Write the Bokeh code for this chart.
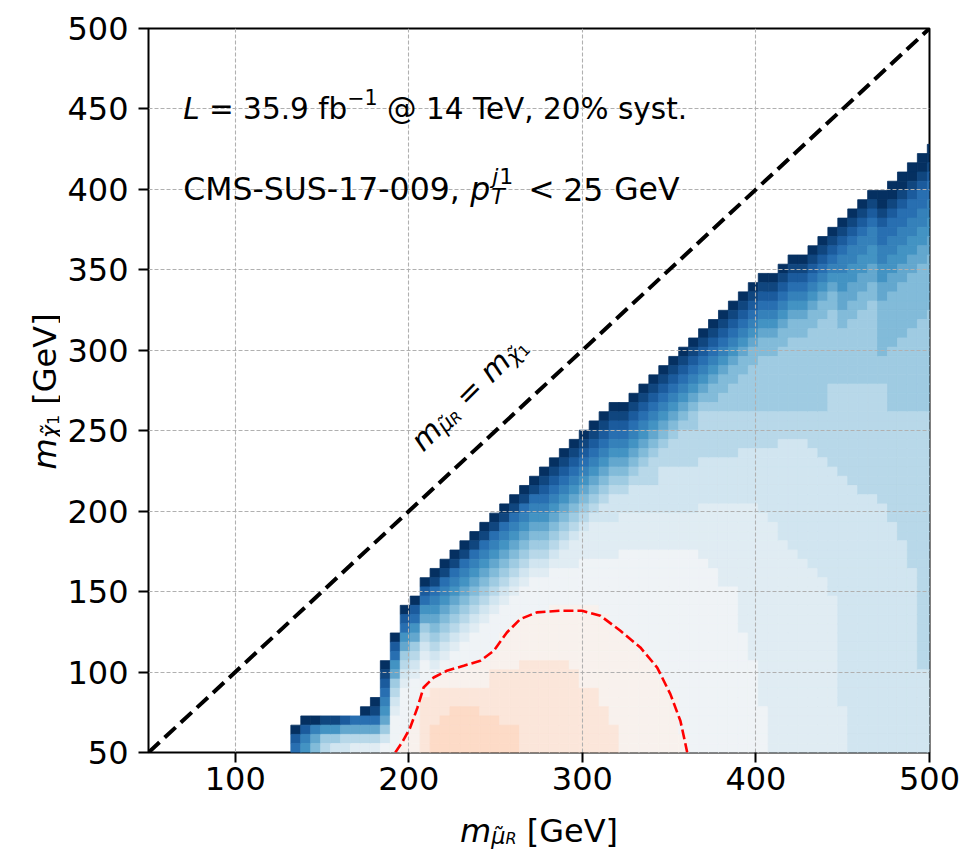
import math
from bokeh.plotting import figure
from bokeh.layouts import row, column
from bokeh.models import ColumnDataSource, LinearColorMapper, Label, Range1d, FixedTicker
from bokeh.transform import transform
from bokeh.embed import file_html
from bokeh.resources import INLINE

FONT = "DejaVu Sans"

# ------------------------------------------------------------------ data
# scan grid (lower edge of first column / row and step), GeV
mu_grid_start = 51.8
chi_grid_start = 49.8
grid_step = 5.73

# m_mu column index of the scan and, per column, the colour level of every
# cell from the top cell (closest to the diagonal) down to the lowest m_chi row.
# token "LxN" = level L (hex) repeated N times
col_index = list(range(14, 79))
col_levels = [
    "0 2 3",
    "0 2 4 5",
    "0 4 6 7",
    "1 5 8 9",
    "1 5 8 a",
    "2 6 9 a",
    "3 6 9 b",
    "0 3 6 9 b",
    "0 1 3 6 9 b",
    "0 1 2 3 4 5 6 8 a c",
    "0 2 3 5 6 8 9 a b cx4",
    "0 2 3 5 6 8 9 a b cx5 dx2",
    "0 2 3 5 6 8 9 a b cx4 dx4",
    "0 2 3 5 6 8 9 a b cx3 d ex6",
    "0 1 3 4 5 6 7 8 9 a b c d ex4 fx3",
    "0 1 3 4 5 6 7 8 9 a b c dx2 ex3 fx4",
    "0 1 3 4 5 6 7 8 9 a b cx2 dx2 ex2 fx5",
    "0 1 3 4 5 6 7 8 9 a b cx3 dx2 ex2 fx5",
    "0 1 3 4 5 6 7 8 9 a b cx3 dx3 ex2 fx5",
    "0 1 3 4 5 6 7 8 9 a b cx4 dx3 ex3 fx4",
    "0 1 3 4 5 6 7 8 9 a b cx4 dx2 ex5 fx4",
    "0 1 3 4 5 6 7 8 9 a b cx3 dx4 ex6 fx3",
    "0 1 3 4 5 6 7 8 9 a b cx3 dx5 ex6 fx3",
    "0 1 3 4 5 6 7 8 9 a b cx3 dx5 ex10",
    "0 1 3 4 5 6 7 8 9 a b cx4 dx5 ex10",
    "0 1 2 3 4 5 6 7 8 9 a b cx4 dx5 ex10",
    "0 1 2 3 4 5 6 7 8 9 a b cx4 dx6 ex10",
    "0 1 2 3 4 5 6 7 8 9 a bx2 cx4 dx6 ex10",
    "0 1 2 3 4 5 6 7 8 9 a bx3 cx4 dx7 ex9",
    "0 1 2 3 4 5 6 7 8 9 a bx3 cx5 dx9 ex7",
    "0 1 2 3 4 5 6 7 8 9 a bx4 cx5 dx9 ex7",
    "0 1 2 3 4 5 6 7 8 9 ax2 bx4 cx6 dx10 ex5",
    "0 1 2 3 4 5 6 7 8 9 ax3 bx4 cx7 dx11 ex3",
    "0 1 2 3 4 5 6 7 8 9 ax2 bx4 cx9 dx13",
    "0 1 2 3 4 5 6 7 8 9 ax3 bx4 cx10 dx12",
    "0 1 2 3 4 5 6 7 8 9x2 ax3 bx4 cx11 dx11",
    "0 1 2 3 4 5 6 7 8 9x3 ax3 bx4 cx12 dx10",
    "0 1 2 3 4 5 6 7 8 9x2 ax5 bx4 cx14 dx8",
    "0 1 2 3 4 5 6 7 8 9x3 ax5 bx4 cx16 dx6",
    "0 1 2 3 4 5 6 7 8 9x4 ax5 bx4 cx20 dx2",
    "0 1 2 3 4 5 6 7 8x2 9x4 ax5 bx4 cx22",
    "0 1 2 3 4 5 6 7 8 9x5 ax5 bx6 cx21",
    "0 1 2 3 4 5 6 7x2 8 9x5 ax5 bx7 cx20",
    "0 1 2 3 4 5 6 7x2 8x2 9x5 ax5 bx9 cx18",
    "0 1 2 3 4 5 6 7x2 8x3 9x5 ax5 bx9 cx18",
    "0 1 2 3 4 5 6 7x2 8x4 9x4 ax6 bx14 cx13",
    "0 1 2 3 4 5 6 7x2 8x5 9x4 ax6 bx17 cx10",
    "0 1 2 3 4 5 6 7x2 8x6 9x4 ax7 bx21 cx5",
    "0 1 2 3 4 5 6 7x2 8x6 9x4 ax8 bx25",
    "0 1 2 3 4 5 6 7x2 8x7 9x3 ax11 bx23",
    "0 1 2 3 4 5 6 7x2 8x8 9x3 ax12 bx22",
    "0 1 2 3 4 5 6 7x2 8x8 9x3 ax13 bx21",
    "0 1 2 3 4 5 6 7x2 8x9 9x4 ax13 bx20",
    "0 1 2 3 4 5 6 7x2 8x10 9x5 ax13 bx19",
    "0 1 2 3 4 5 6 7x2 8x8 9x9 ax14 bx17",
    "0 1 2 3 4x2 5x2 6x2 7x2 8x6 9x10 ax25 bx5",
    "0 1 2 3 4x2 5x2 6x2 7x2 8x7 9x11 ax29",
    "0 1 2 3 4x2 5x2 6x2 7x2 8x8 9x12 ax28",
    "0 1 2 3 4x2 5x2 6x2 7x2 8x9 9x12 ax28",
    "0x2 1 2 3x2 4x2 5x2 6x2 7x6 8x3 9x13 ax27",
    "0x2 1 2 3x2 4x2 5x2 6x2 7x6 8x7 9x12 ax25",
    "0x2 1 2 3x2 4x2 5x2 6x2 7x6 8x8 9x14 ax23",
    "0x2 1 2 3x2 4x2 5x2 6x2 7x6 8x9 9x17 ax20",
    "0x2 1 2 3x2 4x2 5x2 6x2 7x6 8x10 9x28 ax9",
    "0x2 1 2 3x2 4x2 5x2 6x2 7x6 8x11 9x28 ax9",
]

# red dashed contour (GeV)
contour_x = [192.2, 196.5, 200.8, 205.0, 208.5, 214.3, 221.9, 231.6, 241.2, 248.9,
             256.5, 264.2, 273.8, 287.3, 299.8, 310.4, 321.9, 333.4, 343.1, 350.7,
             356.5, 359.4, 360.4]
contour_y = [50.0, 57.0, 65.5, 78.0, 90.4, 96.6, 100.8, 103.9, 107.0, 113.2,
             124.6, 132.9, 137.1, 138.1, 138.1, 135.0, 125.7, 115.3, 102.8, 86.3,
             69.6, 55.1, 50.0]

diag_x = [50, 500]
diag_y = [50, 500]

x_ticks = [100, 200, 300, 400, 500]
y_ticks = [50, 100, 150, 200, 250, 300, 350, 400, 450, 500]

# diverging colour map (RdBu reversed) and number of level steps over its span
cmap_anchors = ["#053061", "#2166ac", "#4393c3", "#92c5de", "#d1e5f0", "#f7f7f7",
                "#fddbc7", "#f4a582", "#d6604d", "#b2182b", "#67001f"]
n_steps = 25

# ------------------------------------------------------------------ cells
def expand(s):
    out = []
    for tok in s.split():
        if "x" in tok:
            lv, n = tok.split("x")
            out += [int(lv, 16)] * int(n)
        else:
            out.append(int(tok, 16))
    return out

cx, cy, cz = [], [], []
for c, s in zip(col_index, col_levels):
    seq = expand(s)
    top = len(seq) - 1
    for i, lv in enumerate(seq):
        r = top - i
        cx.append(mu_grid_start + grid_step * (c + 0.5))
        cy.append(chi_grid_start + grid_step * (r + 0.5))
        cz.append(lv)

src = ColumnDataSource(dict(x=cx, y=cy, z=cz))


def _hex(h):
    return [int(h[k:k + 2], 16) for k in (1, 3, 5)]


def cmap(frac):
    pos = frac * (len(cmap_anchors) - 1)
    i = min(int(pos), len(cmap_anchors) - 2)
    t = pos - i
    a, b = _hex(cmap_anchors[i]), _hex(cmap_anchors[i + 1])
    return "#%02x%02x%02x" % tuple(int(round(a[j] + (b[j] - a[j]) * t)) for j in range(3))


palette = [cmap(k / n_steps) for k in range(n_steps + 1)]
mapper = LinearColorMapper(palette=palette, low=-0.5, high=n_steps + 0.5)

# ------------------------------------------------------------------ layout sizes
W_TOTAL, H_TOTAL = 963, 849
YLAB_W = 60
XLAB_H = 45
P_W = W_TOTAL - YLAB_W
P_H = H_TOTAL - XLAB_H

p = figure(width=P_W, height=P_H, x_range=Range1d(50, 500), y_range=Range1d(50, 500),
           output_backend="svg", toolbar_location=None,
           min_border_left=148 - YLAB_W, min_border_right=34, min_border_top=28,
           min_border_bottom=52)
p.background_fill_color = "white"
p.border_fill_color = "white"
p.outline_line_color = "black"
p.outline_line_width = 2
p.outline_line_alpha = 1.0

cells = p.rect(x="x", y="y", width=grid_step, height=grid_step, source=src,
               fill_color=transform("z", mapper), line_color=transform("z", mapper),
               line_width=0.8)
cells.level = "image"

p.xaxis.ticker = FixedTicker(ticks=x_ticks)
p.yaxis.ticker = FixedTicker(ticks=y_ticks)
for ax in (p.xaxis, p.yaxis):
    ax.axis_line_color = None
    ax.major_tick_line_color = "black"
    ax.major_tick_line_width = 2
    ax.major_tick_in = 0
    ax.major_tick_out = 10
    ax.minor_tick_line_color = None
    ax.major_label_text_font = FONT
    ax.major_label_text_font_size = "32px"
    ax.major_label_text_color = "black"
p.xaxis.major_label_standoff = 4
p.yaxis.major_label_standoff = 10

p.grid.grid_line_color = "#b0b0b0"
p.grid.grid_line_width = 1.1
p.grid.grid_line_dash = "4 2"
p.grid.level = "underlay"

p.line(diag_x, diag_y, line_color="black", line_width=4, line_dash="15 7")
p.line(contour_x, contour_y, line_color="#ff0000", line_width=2.6, line_dash="10 4")


def blank(w, h):
    f = figure(width=w, height=h, x_range=Range1d(0, w), y_range=Range1d(0, h),
               output_backend="svg", toolbar_location=None, min_border=0,
               min_border_left=0, min_border_right=0, min_border_top=0,
               min_border_bottom=0, x_axis_type=None, y_axis_type=None)
    f.outline_line_color = None
    f.background_fill_color = "white"
    f.border_fill_color = "white"
    return f


ylab = blank(YLAB_W, P_H)
xlab = blank(W_TOTAL, XLAB_H)

# ------------------------------------------------------------------ texts
ADV = {" ": 0.318, "%": 0.950, ",": 0.318, "-": 0.361, ".": 0.318, "<": 0.838,
       "=": 0.838, "@": 1.0, "C": 0.698, "G": 0.775, "L": 0.557, "M": 0.863,
       "R": 0.695, "S": 0.635, "T": 0.611, "U": 0.732, "V": 0.684, "[": 0.390,
       "]": 0.390, "b": 0.635, "e": 0.615, "f": 0.352, "j": 0.278, "m": 0.974,
       "p": 0.635, "s": 0.521, "t": 0.392, "y": 0.592, "\u2212": 0.838,
       "\u03bc": 0.636, "\u03c7": 0.592, "\u0303": 0.0}
for d in "0123456789":
    ADV[d] = 0.636


def text_adv(t, size):
    return sum(ADV.get(ch, 0.6) for ch in t) * size


def put(fig, x, y, text, size, italic=False, dx=0.0, dy=0.0, angle=0.0):
    fig.add_layout(Label(x=x, y=y, x_offset=dx, y_offset=dy, angle=angle, text=text,
                         text_font=FONT, text_font_size="%.1fpx" % size,
                         text_font_style="italic" if italic else "normal",
                         text_baseline="alphabetic", text_align="left",
                         text_color="black"))


def add_runs(fig, x, y, pieces, angle_deg=0.0, center=False):
    a = math.radians(angle_deg)
    ca, sa = math.cos(a), math.sin(a)
    total = 0.0
    for pc in pieces:
        total += pc["adv"] if "adv" in pc else text_adv(pc["t"], pc["s"])
    u = -total / 2 if center else 0.0
    for pc in pieces:
        t = pc["t"]
        lead = len(t) - len(t.lstrip(" "))
        body = t.strip(" ")
        uu = u + lead * ADV[" "] * pc["s"]
        v = pc.get("rise", 0.0)
        if body:
            put(fig, x, y, body, pc["s"], pc.get("it", False),
                uu * ca - v * sa, uu * sa + v * ca, a)
        u += pc["adv"] if "adv" in pc else text_adv(t, pc["s"])


T = 29.5
add_runs(p, 70, 450, [
    dict(t="L", s=T, it=True),
    dict(t=" = 35.9 fb", s=T),
    dict(t="\u22121", s=T * 0.7, rise=12),
    dict(t=" @ 14 TeV, 20% syst.", s=T),
])

# second line: pieces placed at offsets (px) from the line start
T2 = 31.5
put(p, 70, 400, "CMS-SUS-17-009,", T2)
put(p, 70, 400, "p", T2, True, dx=287)
put(p, 70, 400, "j", T2 * 0.7, True, dx=309, dy=13)
put(p, 70, 400, "1", T2 * 0.7, False, dx=316, dy=13)
put(p, 70, 400, "T", T2 * 0.7, True, dx=308, dy=-7)
put(p, 70, 400, "<", T2, dx=345)
put(p, 70, 400, "25", T2, dx=380)
put(p, 70, 400, "GeV", T2, dx=431)

D = 30.0
add_runs(p, 204, 241, [
    dict(t="m", s=D, it=True),
    dict(t="\u03bc\u0303", s=D * 0.7, it=True, rise=-6),
    dict(t="R", s=D * 0.5, it=True, rise=-9),
    dict(t=" = ", s=D),
    dict(t="m", s=D, it=True),
    dict(t="\u03c7\u0303", s=D * 0.7, it=True, rise=-6),
    dict(t="1", s=D * 0.5, rise=-9),
], angle_deg=45)

A = 32.0
# x axis label (in the strip below the plot; coordinates are pixels)
frame_cx = YLAB_W + (148 - YLAB_W) + 781 / 2.0
add_runs(xlab, frame_cx, 19, [
    dict(t="m", s=A, it=True),
    dict(t="\u03bc\u0303", s=A * 0.7, it=True, rise=-5),
    dict(t="R", s=A * 0.5, it=True, rise=-8),
    dict(t=" [GeV]", s=A),
], center=True)
# y axis label (in the strip left of the plot)
add_runs(ylab, 44, 401, [
    dict(t="m", s=A, it=True),
    dict(t="\u03c7\u0303", s=A * 0.7, it=True, rise=-5),
    dict(t="1", s=A * 0.5, rise=-8),
    dict(t=" [GeV]", s=A),
], angle_deg=90, center=True)

layout = column(row(ylab, p), xlab)
open("out.html", "w").write(file_html(layout, INLINE))
